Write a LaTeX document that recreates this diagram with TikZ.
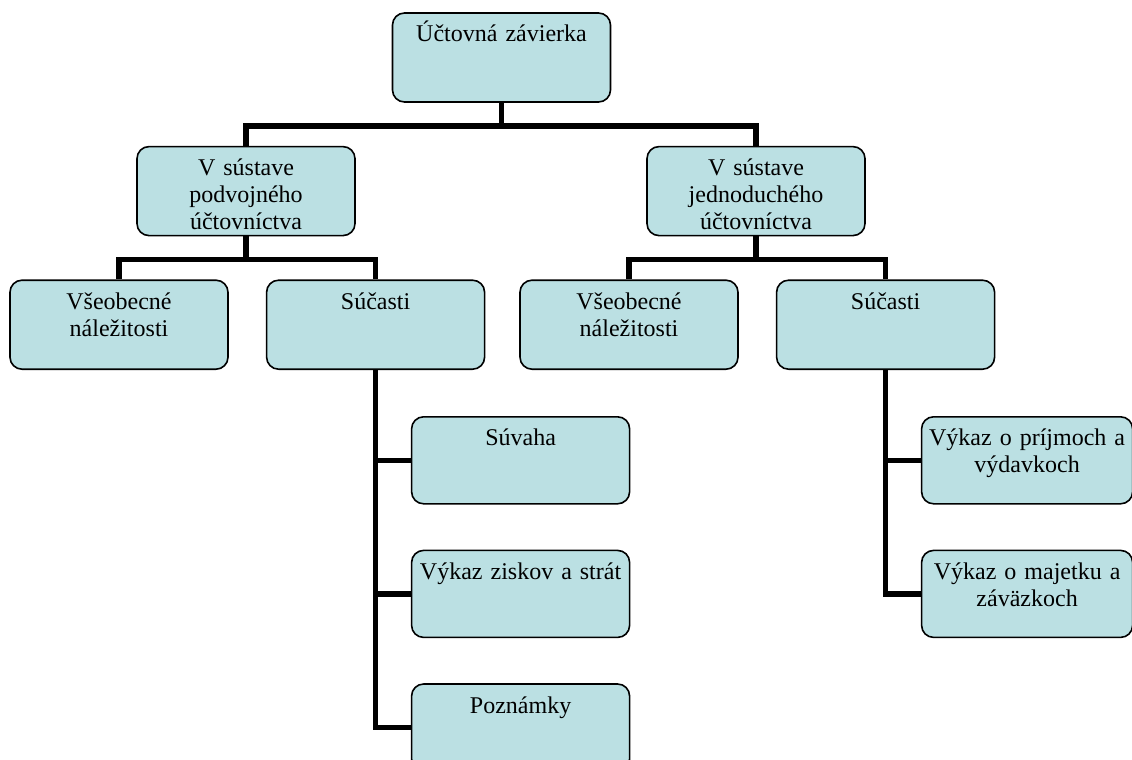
\documentclass[tikz,border=0pt]{standalone}
\usepackage{fontspec}
\setmainfont{Liberation Serif}
\usetikzlibrary{positioning}

\definecolor{boxfill}{RGB}{187,224,227}

\begin{document}
\begin{tikzpicture}[
every node/.style={font=\fontsize{24}{27}\selectfont},
box/.style={
rectangle,
rounded corners=12pt,
draw=black,
fill=boxfill,
line width=1.6pt,
text width=204pt,
align=center,
inner xsep=7pt,
inner ysep=0pt,
text height=29pt,
text depth=60pt
},
smallbox/.style={
box,
text depth=58pt
},
narrowbox/.style={
smallbox,
text width=197pt
},
line/.style={draw, line width=5.5pt}
]

\useasboundingbox (0,0) rectangle (1132pt,-760pt);

% Nodes
\node[box] (zavierka) at (501.5pt,-57.5pt) {Účtovná závierka};

\node[box, below=43pt of zavierka, xshift=-255.5pt] (podvojne)
{V sústave\\ podvojného\\ účtovníctva};

\node[box, below=43pt of zavierka, xshift=254.5pt] (jednoduche)
{V sústave\\ jednoduchého\\ účtovníctva};

\node[box, below=43pt of podvojne, xshift=-127pt] (podvNalez)
{Všeobecné\\ náležitosti};

\node[box, right=37pt of podvNalez] (podvSucasti)
{Súčasti};

\node[box, below=43pt of jednoduche, xshift=-127pt] (jednNalez)
{Všeobecné\\ náležitosti};

\node[box, right=37pt of jednNalez] (jednSucasti)
{Súčasti};

\node[smallbox, below=46pt of podvSucasti, xshift=145pt] (suvaha)
{Súvaha};

\node[smallbox, below=45pt of suvaha] (vykazZisk)
{Výkaz ziskov a strát};

\node[smallbox, below=45pt of vykazZisk] (poznamky)
{Poznámky};

\node[narrowbox, below=46pt of jednSucasti, xshift=141.5pt] (vykazPrijm)
{Výkaz o príjmoch a\\ výdavkoch};

\node[narrowbox, below=45pt of vykazPrijm] (vykazMajetok)
{Výkaz o majetku a\\ záväzkoch};

% Connections
\draw[line] (zavierka.south) -- ++(0,-23pt) -| (podvojne.north);
\draw[line] (zavierka.south) -- ++(0,-23pt) -| (jednoduche.north);

% double-entry branch
\draw[line] (podvojne.south) -- ++(0,-23pt) -| (podvNalez.north);
\draw[line] (podvojne.south) -- ++(0,-23pt) -| (podvSucasti.north);

\draw[line] (podvSucasti.south) |- (suvaha.west);
\draw[line] (podvSucasti.south) |- (vykazZisk.west);
\draw[line] (podvSucasti.south) |- (poznamky.west);

% single-entry branch
\draw[line] (jednoduche.south) -- ++(0,-23pt) -| (jednNalez.north);
\draw[line] (jednoduche.south) -- ++(0,-23pt) -| (jednSucasti.north);

\draw[line] (jednSucasti.south) |- (vykazPrijm.west);
\draw[line] (jednSucasti.south) |- (vykazMajetok.west);

\end{tikzpicture}
\end{document}
